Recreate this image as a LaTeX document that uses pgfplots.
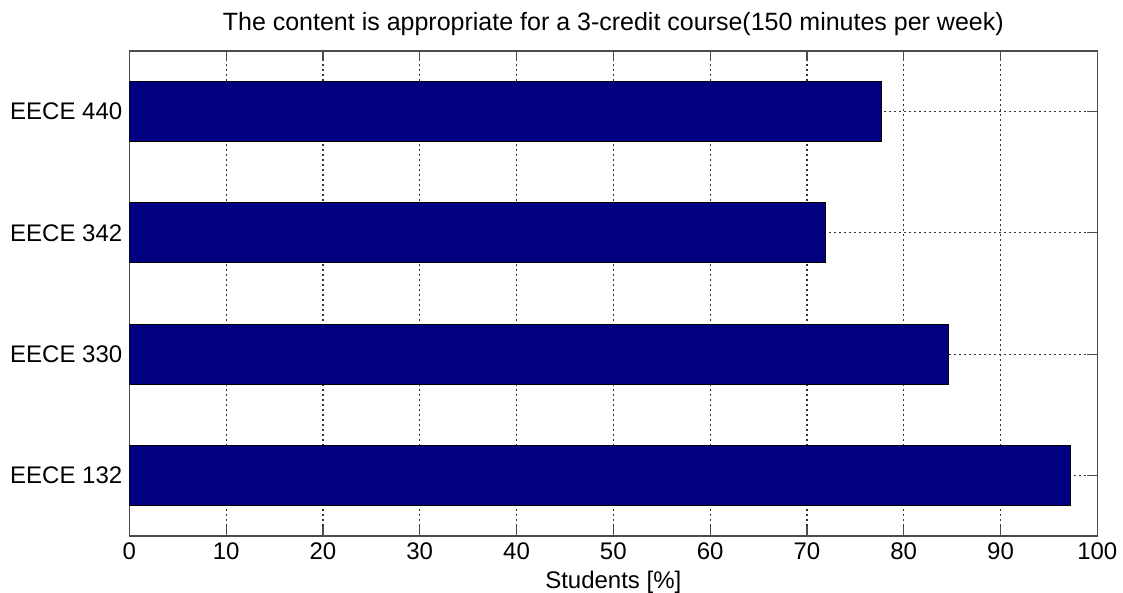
\documentclass[border=0pt]{standalone}
\usepackage{fontspec}
\setmainfont{Liberation Sans}
\usepackage{pgfplots}
\pgfplotsset{compat=1.18}
\definecolor{barnavy}{RGB}{0,0,128}
\begin{document}
\begin{tikzpicture}
\path[use as bounding box] (-64.65pt,-28.5pt) rectangle (496.85pt,268pt);
\begin{axis}[
  at={(0,0)}, anchor=south west,
  scale only axis,
  width=484pt, height=242.5pt,
  xbar, bar width=30pt,
  xmin=0, xmax=100,
  ymin=0.5, ymax=4.5,
  xtick={0,10,...,100},
  ytick={1,2,3,4},
  yticklabels={EECE 132,EECE 330,EECE 342,EECE 440},
  tick align=inside,
  major tick length=5pt,
  xmajorgrids, ymajorgrids,
  grid style={black!80, dash pattern=on 1pt off 1.5pt, line width=0.6pt},
  axis line style={black!70, line width=0.6pt},
  tick style={black!70, line width=0.6pt},
  ticklabel style={font=\fontsize{12}{14}\selectfont},
  /pgf/number format/assume math mode=true,
  xlabel={Students [\%]},
  xlabel style={font=\fontsize{12}{14}\selectfont, yshift=1.5pt},
  title={The content is appropriate for a 3-credit course(150 minutes per week)},
  title style={font=\fontsize{12.5}{15}\selectfont, yshift=-2pt},
]
\addplot[fill=barnavy, draw=black, line width=0.5pt] coordinates {
  (97.2,1) (84.6,2) (71.9,3) (77.7,4)
};
\end{axis}
\end{tikzpicture}
\end{document}
